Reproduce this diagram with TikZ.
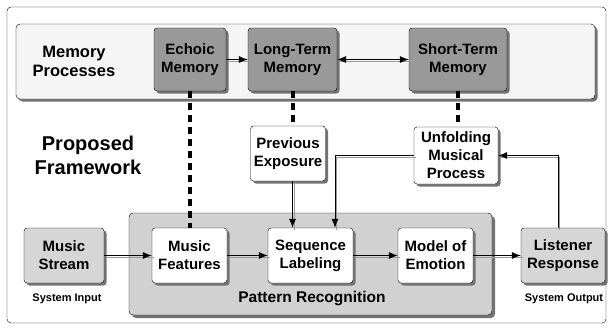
\documentclass[tikz,border=0pt]{standalone}
\usepackage{fontspec}
\setmainfont{Liberation Sans}
\usetikzlibrary{shadows,arrows.meta}

\tikzset{
  box/.style={draw, rounded corners=3pt, align=center, inner sep=0pt,
    font=\bfseries\fontsize{15}{18}\selectfont,
    drop shadow={shadow xshift=2.5pt, shadow yshift=-2.5pt, fill=black!55, opacity=1}},
  membox/.style={box, fill=black!40},
  endbox/.style={box, fill=black!16},
  stepbox/.style={box, fill=white},
  flow/.style={-{Latex[length=9pt,width=7pt]}, line width=0.8pt,
    preaction={draw=black!40, line width=0.8pt, -, transform canvas={shift={(1.8pt,-1.8pt)}}}},
  memlink/.style={line width=4pt, dash pattern=on 7pt off 5pt},
  heading/.style={font=\bfseries\fontsize{16.5}{19}\selectfont, align=center},
  caption/.style={font=\bfseries\fontsize{11}{13}\selectfont},
}

\begin{document}
\begin{tikzpicture}[x=1pt, y=-1pt]
\useasboundingbox (0,0) rectangle (611,327);

%% frames
\node[draw, rounded corners=4pt, minimum width=599pt, minimum height=316pt] (frame) at (306.5,165) {};
\node[draw, rounded corners=4pt, fill=black!4, minimum width=579pt, minimum height=75pt,
  drop shadow={shadow xshift=2.5pt, shadow yshift=-2.5pt, fill=black!55, opacity=1}] (band) at (305.5,61.5) {};
\node[draw, rounded corners=4pt, fill=black!18, minimum width=363pt, minimum height=102pt,
  drop shadow={shadow xshift=3pt, shadow yshift=-3pt, fill=black!55, opacity=1}] (pattern) at (310.5,264) {};

%% texts
\node[heading] (memproc) at (74,61) {Memory\\Processes};
\node[heading, font=\bfseries\fontsize{20}{24}\selectfont] (proposed) at (88,155) {Proposed\\Framework};
\node[heading, font=\bfseries\fontsize{15.5}{18}\selectfont] (patrec) at (312,299) {Pattern Recognition};
\node[caption] (sysin) at (67,299) {System Input};
\node[caption] (sysout) at (564,299) {System Output};

%% memory processes
\node[membox, minimum width=72pt, minimum height=63pt] (echoic) at (190,59.5) {Echoic\\Memory};
\node[membox, minimum width=89pt, minimum height=63pt] (longterm) at (292.5,59.5) {Long-Term\\Memory};
\node[membox, minimum width=98pt, minimum height=63pt] (shortterm) at (458,59.5) {Short-Term\\Memory};

%% framework boxes
\node[stepbox, minimum width=75pt, minimum height=55pt] (prev) at (288,153.5) {Previous\\Exposure};
\node[stepbox, minimum width=84pt, minimum height=57pt] (unfold) at (456,155.5) {Unfolding\\Musical\\Process};
\node[endbox, minimum width=80pt, minimum height=55pt] (stream) at (64,255.5) {Music\\Stream};
\node[stepbox, minimum width=75pt, minimum height=55pt] (features) at (189.5,255.5) {Music\\Features};
\node[stepbox, minimum width=85pt, minimum height=55pt] (seqlab) at (310.5,255.5) {Sequence\\Labeling};
\node[stepbox, minimum width=75pt, minimum height=55pt] (emotion) at (435.5,255.5) {Model of\\Emotion};
\node[endbox, minimum width=84pt, minimum height=55pt] (listener) at (563,255.5) {Listener\\Response};

%% memory links
\draw[memlink] (echoic.south) -- (echoic.south |- features.north);
\draw[memlink] (longterm.south) -- (longterm.south |- prev.north);
\draw[memlink] (shortterm.south) -- (shortterm.south |- unfold.north);

%% flow
\draw[flow] (echoic.east) -- (longterm.west);
\draw[flow, {Latex[length=9pt,width=7pt]}-{Latex[length=9pt,width=7pt]}] (longterm.east) -- (shortterm.west);
\draw[flow] (stream.east) -- (features.west);
\draw[flow] (features.east) -- (seqlab.west);
\draw[flow] (seqlab.east) -- (emotion.west);
\draw[flow] (emotion.east) -- (listener.west);
\draw[flow] ([xshift=4.5pt]prev.south) -- ([xshift=4.5pt]prev.south |- seqlab.north);
\draw[flow] (unfold.west) -| ([xshift=24.5pt]seqlab.north);
\draw[flow] ([xshift=-5pt]listener.north) |- (unfold.east);
\end{tikzpicture}
\end{document}
